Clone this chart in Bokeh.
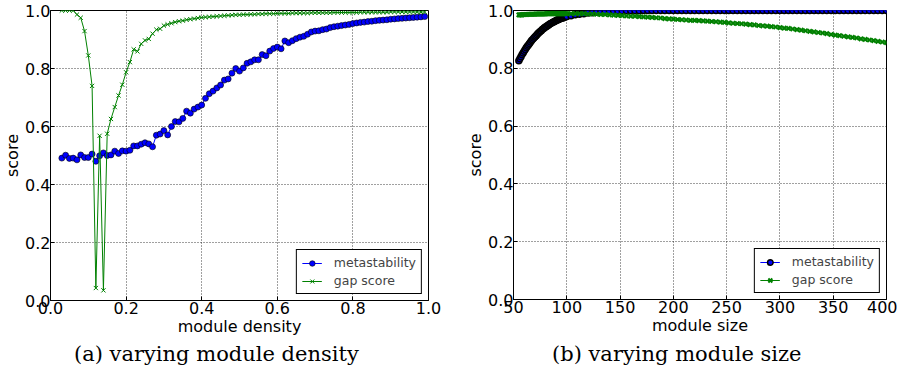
from bokeh.plotting import figure
from bokeh.layouts import row, column
from bokeh.models import Range1d, FixedTicker, PrintfTickFormatter, Legend, LegendItem, Div
from bokeh.embed import file_html
from bokeh.resources import INLINE

# ---------------- data: (a) varying module density ----------------
density = [round(0.03 + 0.01 * i, 2) for i in range(97)]
meta_density = [
    0.491, 0.501, 0.490, 0.491, 0.485, 0.502, 0.493, 0.493, 0.505, 0.480,
    0.499, 0.509, 0.500, 0.502, 0.515, 0.507, 0.516, 0.515, 0.518, 0.533,
    0.533, 0.539, 0.544, 0.540, 0.530, 0.570, 0.574, 0.586, 0.571, 0.600,
    0.617, 0.616, 0.628, 0.653, 0.646, 0.660, 0.667, 0.674, 0.697, 0.713,
    0.722, 0.733, 0.743, 0.760, 0.764, 0.784, 0.800, 0.791, 0.802, 0.818,
    0.823, 0.830, 0.830, 0.848, 0.844, 0.860, 0.869, 0.874, 0.868, 0.895,
    0.889, 0.896, 0.903, 0.908, 0.911, 0.918, 0.926, 0.929, 0.930, 0.934,
    0.936, 0.941, 0.944, 0.946, 0.948, 0.950, 0.952, 0.955, 0.957, 0.959,
    0.960, 0.962, 0.963, 0.965, 0.966, 0.967, 0.968, 0.970, 0.971, 0.972,
    0.973, 0.974, 0.975, 0.976, 0.977, 0.978, 0.979,
]
gap_density = [
    1.000, 1.000, 1.000, 1.000, 0.986, 0.975, 0.929, 0.845, 0.740, 0.043,
    0.568, 0.035, 0.575, 0.626, 0.667, 0.707, 0.744, 0.787, 0.822, 0.866,
    0.859, 0.885, 0.897, 0.902, 0.920, 0.934, 0.937, 0.948, 0.952, 0.956,
    0.960, 0.963, 0.965, 0.968, 0.970, 0.972, 0.974, 0.976, 0.977, 0.978,
    0.979, 0.980, 0.981, 0.982, 0.983, 0.984, 0.985, 0.985, 0.986, 0.986,
    0.987, 0.987, 0.988, 0.988, 0.989, 0.989, 0.989, 0.990, 0.990, 0.990,
    0.990, 0.991, 0.991, 0.991, 0.991, 0.991, 0.992, 0.992, 0.992, 0.992,
    0.992, 0.992, 0.993, 0.993, 0.993, 0.993, 0.993, 0.993, 0.993, 0.994,
    0.994, 0.994, 0.994, 0.994, 0.994, 0.994, 0.994, 0.995, 0.995, 0.995,
    0.995, 0.995, 0.995, 0.995, 0.995, 0.995, 0.995,
]

# ---------------- data: (b) varying module size ----------------
size = list(range(55, 100)) + list(range(100, 401, 4))
meta_size = [
    0.826, 0.833, 0.840, 0.847, 0.853, 0.859, 0.865, 0.871, 0.876, 0.881,
    0.886, 0.891, 0.896, 0.900, 0.904, 0.908, 0.912, 0.916, 0.920, 0.924,
    0.927, 0.930, 0.934, 0.937, 0.940, 0.943, 0.945, 0.948, 0.950, 0.953,
    0.955, 0.957, 0.959, 0.961, 0.963, 0.965, 0.967, 0.968, 0.970, 0.971,
    0.973, 0.974, 0.975, 0.977, 0.978,
    0.979, 0.982, 0.985, 0.987, 0.989, 0.991, 0.992, 0.994, 0.995, 0.996,
    0.997, 0.997, 0.998, 0.998, 0.999, 0.999, 0.999, 0.999, 1.000, 1.000,
    1.000, 1.000, 1.000, 1.000, 1.000, 1.000, 1.000, 1.000, 1.000, 1.000,
    1.000, 1.000, 1.000, 1.000, 1.000, 1.000, 1.000, 1.000, 1.000, 1.000,
    1.000, 1.000, 1.000, 1.000, 1.000, 1.000, 1.000, 1.000, 1.000, 1.000,
    1.000, 1.000, 1.000, 1.000, 1.000, 1.000, 1.000, 1.000, 1.000, 1.000,
    1.000, 1.000, 1.000, 1.000, 1.000, 1.000, 1.000, 1.000, 1.000, 1.000,
    1.000, 1.000, 1.000, 1.000, 1.000, 1.000,
]
gap_size = [
    0.985, 0.985, 0.985, 0.985, 0.986, 0.986, 0.986, 0.986, 0.986, 0.987,
    0.987, 0.987, 0.987, 0.987, 0.987, 0.987, 0.988, 0.988, 0.988, 0.988,
    0.988, 0.988, 0.988, 0.988, 0.988, 0.988, 0.989, 0.989, 0.989, 0.989,
    0.989, 0.989, 0.989, 0.989, 0.989, 0.989, 0.989, 0.989, 0.989, 0.989,
    0.989, 0.989, 0.989, 0.989, 0.989,
    0.989, 0.989, 0.989, 0.989, 0.989, 0.988, 0.988, 0.987, 0.986, 0.986,
    0.985, 0.984, 0.983, 0.982, 0.981, 0.980, 0.980, 0.979, 0.978, 0.977,
    0.976, 0.975, 0.974, 0.972, 0.971, 0.970, 0.969, 0.968, 0.967, 0.966,
    0.966, 0.965, 0.964, 0.963, 0.962, 0.961, 0.960, 0.959, 0.957, 0.956,
    0.955, 0.954, 0.953, 0.951, 0.950, 0.948, 0.947, 0.946, 0.944, 0.943,
    0.941, 0.939, 0.938, 0.936, 0.934, 0.932, 0.930, 0.928, 0.926, 0.924,
    0.922, 0.920, 0.917, 0.915, 0.913, 0.911, 0.909, 0.907, 0.905, 0.902,
    0.900, 0.898, 0.896, 0.893, 0.891, 0.889,
]

y_ticks = [0.0, 0.2, 0.4, 0.6, 0.8, 1.0]
density_ticks = [0.0, 0.2, 0.4, 0.6, 0.8, 1.0]
size_ticks = [50, 100, 150, 200, 250, 300, 350, 400]

BLUE = "#0000ff"
GREEN = "#008000"
SANS = "DejaVu Sans"


def make_panel(xs, meta, gap, x_range, x_ticks, x_fmt, xlabel,
               frame_w, frame_h, left, right, top, bottom, edge_w, gap_w):
    p = figure(frame_width=frame_w, frame_height=frame_h,
               output_backend="svg", toolbar_location=None,
               x_range=Range1d(*x_range), y_range=Range1d(0, 1),
               min_border_left=left, min_border_right=right,
               min_border_top=top, min_border_bottom=bottom)
    p.outline_line_color = "black"
    p.outline_line_width = 1
    p.outline_line_alpha = 1
    p.background_fill_color = "white"
    p.border_fill_color = "white"

    for ax, ticks, fmt in ((p.xaxis[0], x_ticks, x_fmt), (p.yaxis[0], y_ticks, "%.1f")):
        ax.ticker = FixedTicker(ticks=ticks)
        ax.formatter = PrintfTickFormatter(format=fmt)
        ax.major_tick_in = 4
        ax.major_tick_out = 0
        ax.minor_tick_line_color = None
        ax.major_label_text_font = SANS
        ax.major_label_text_font_size = "16px"
        ax.major_label_text_color = "black"
        ax.axis_label_text_font = SANS
        ax.axis_label_text_font_size = "16px"
        ax.axis_label_text_font_style = "normal"
        ax.axis_label_text_color = "black"
        ax.axis_line_color = "black"
        ax.major_tick_line_color = "black"
    p.xaxis.axis_label = xlabel
    p.yaxis.axis_label = "score"
    p.xaxis.major_label_standoff = 1
    p.xaxis.axis_label_standoff = 0
    p.yaxis.major_label_standoff = 0
    p.yaxis.axis_label_standoff = 0

    p.xgrid.ticker = FixedTicker(ticks=x_ticks)
    p.ygrid.ticker = FixedTicker(ticks=y_ticks)
    for g in (p.xgrid[0], p.ygrid[0]):
        g.grid_line_color = "black"
        g.grid_line_alpha = 0.75
        g.grid_line_dash = "1 2"
        g.grid_line_width = 1

    l1 = p.line(xs, meta, line_color=BLUE, line_width=1)
    s1 = p.scatter(xs, meta, marker="circle", size=6, fill_color=BLUE,
                   line_color="black", line_width=edge_w)
    l2 = p.line(xs, gap, line_color=GREEN, line_width=1)
    s2 = p.scatter(xs, gap, marker="x", size=6, line_color=GREEN, line_width=gap_w)

    legend = Legend(items=[LegendItem(label="metastability", renderers=[l1, s1]),
                           LegendItem(label="gap score", renderers=[l2, s2])],
                    location="bottom_right")
    legend.margin = 6
    legend.padding = 5
    legend.spacing = 3
    legend.glyph_width = 20
    legend.glyph_height = 14
    legend.label_height = 14
    legend.label_standoff = 12
    legend.label_text_font = SANS
    legend.label_text_font_size = "12.5px"
    legend.border_line_color = "black"
    legend.border_line_width = 1
    legend.border_line_alpha = 1
    legend.background_fill_alpha = 1
    p.add_layout(legend, "center")
    return p


def caption(text, width, pad):
    html = ('<div style="font-family:\'DejaVu Serif\';font-size:21px;line-height:26px;'
            'color:#000;white-space:nowrap;padding-left:%dpx">%s</div>' % (pad, text))
    return Div(text=html, width=width, height=26, margin=0)


p1 = make_panel(density, meta_density, gap_density, (0, 1), density_ticks, "%.1f",
                "module density",
                frame_w=378, frame_h=290, left=46, right=35, top=5, bottom=46,
                edge_w=0.6, gap_w=1)
p2 = make_panel(size, meta_size, gap_size, (50, 400), size_ticks, "%d",
                "module size",
                frame_w=373, frame_h=289, left=46, right=11, top=10, bottom=42,
                edge_w=1.5, gap_w=2.0)

c1 = caption("(a) varying module density", 459, 74)
c2 = caption("(b) varying module size", 430, 93)

layout = column(row(p1, p2, spacing=0), row(c1, c2, spacing=0), spacing=0)
open("out.html", "w").write(file_html(layout, INLINE))
